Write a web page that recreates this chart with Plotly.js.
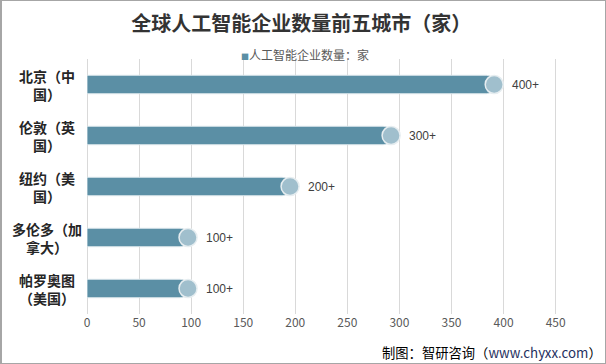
<!DOCTYPE html>
<html><head><meta charset="utf-8">
<script src="https://cdn.plot.ly/plotly-3.0.1.min.js"></script>
<style>
html,body{margin:0;padding:0;background:#fff;}
#wrap{position:relative;width:606px;height:364px;}
#chart{width:606px;height:364px;}
#frame{position:absolute;left:0;top:0;width:606px;height:364px;box-sizing:border-box;border:1px solid #a6a6a6;border-left:2px solid #a6a6a6;pointer-events:none;}
</style></head>
<body>
<div id="wrap"><div id="chart"></div><div id="frame"></div></div>
<script>
const cities = ["北京（中<br>国）", "伦敦（英<br>国）", "纽约（美<br>国）", "多伦多（加<br>拿大）", "帕罗奥图<br>（美国）"];
const keys = ["北京", "伦敦", "纽约", "多伦多", "帕罗奥图"];
const values = [391, 292, 195, 97, 97];
const valueLabels = ["400+", "300+", "200+", "100+", "100+"];
const xTicks = [0, 50, 100, 150, 200, 250, 300, 350, 400, 450];
const seriesName = "人工智能企业数量：家";
const titleText = "全球人工智能企业数量前五城市（家）";
const sourcePrefix = "制图：智研咨询（";
const sourceUrl = "www.chyxx.com";
const sourceSuffix = "）";

const barColor = "#5b8fa5";
const capColor = "#a0bfcd";
const cjk = "'Noto Sans CJK SC', 'Noto Sans', sans-serif";

const traces = [
  {
    type: "bar", orientation: "h", x: values, y: keys, width: 0.36,
    marker: {color: barColor, cornerradius: 8, line: {color: "#d5e2e8", width: 1}},
    showlegend: false, hoverinfo: "skip"
  },
  {
    type: "scatter", mode: "markers", x: values, y: keys, cliponaxis: false,
    marker: {symbol: "circle", size: 18, color: capColor, line: {color: "#e6edf0", width: 1.5}},
    showlegend: false, hoverinfo: "skip"
  }
];

const annotations = [];
keys.forEach((k, i) => {
  annotations.push({
    xref: "paper", yref: "y", x: -0.079, y: k, text: cities[i], showarrow: false,
    xanchor: "center", yanchor: "middle", align: "center",
    font: {family: cjk, size: 14, color: "#262626", weight: "bold"}
  });
  annotations.push({
    xref: "x", yref: "y", x: values[i], y: k, text: valueLabels[i], showarrow: false,
    xanchor: "left", yanchor: "middle", xshift: 16,
    font: {family: "'Liberation Sans', Arial, sans-serif", size: 12, color: "#404040"}
  });
});
annotations.push({
  xref: "paper", yref: "paper", x: 0.302, y: 1.016, yanchor: "middle", xanchor: "left",
  text: '<span style="color:' + barColor + ';font-size:8px">■</span>' + seriesName, showarrow: false,
  font: {family: cjk, size: 12, color: "#595959"}
});
annotations.push({
  xref: "paper", yref: "paper", x: 1.028, y: -0.152, xanchor: "right", yanchor: "middle",
  text: sourcePrefix + '<span style="color:#1f3060">' + sourceUrl + '</span>' + sourceSuffix, showarrow: false,
  font: {family: cjk, size: 13.3, color: "#000000"}
});

const layout = {
  width: 606, height: 364,
  margin: {l: 87, r: 16, t: 59, b: 50},
  paper_bgcolor: "#ffffff", plot_bgcolor: "#ffffff",
  title: {text: titleText, x: 0.497, xanchor: "center", y: 0.935, yanchor: "middle",
          font: {family: cjk, size: 20, color: "#333333", weight: "bold"}},
  xaxis: {range: [0, 483], tickvals: xTicks, ticktext: xTicks.map(String),
          showgrid: true, gridcolor: "#d9d9d9", gridwidth: 1, zeroline: true, zerolinecolor: "#d9d9d9",
          showline: false, ticks: "", tickfont: {family: cjk, size: 12, color: "#595959"}, fixedrange: true},
  yaxis: {type: "category", categoryorder: "array", categoryarray: keys, range: [4.5, -0.5],
          showticklabels: false, showgrid: false, zeroline: false, showline: false, ticks: ""},
  annotations: annotations,
  showlegend: false,
  bargap: 0.6
};

Plotly.newPlot("chart", traces, layout, {displayModeBar: false, staticPlot: true});
</script>
</body></html>
